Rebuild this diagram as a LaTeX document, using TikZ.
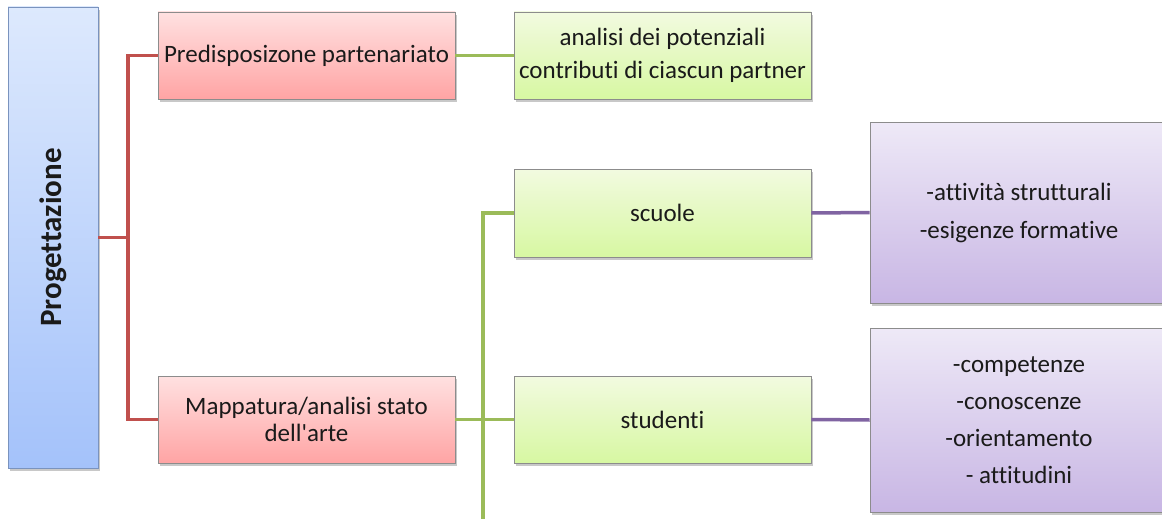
\documentclass[tikz,border=0pt]{standalone}
\usepackage{fontspec}
\setmainfont{Carlito}[Ligatures={TeXOff,NoCommon}]
\usetikzlibrary{shadows}
\definecolor{redline}{HTML}{C0504D}
\definecolor{greenline}{HTML}{9BBB59}
\definecolor{purpleline}{HTML}{8064A2}
\definecolor{boxborder}{HTML}{8C8C8C}
\definecolor{blueborder}{HTML}{7A93BE}
\definecolor{txt}{HTML}{1A1A1A}
\tikzset{
  basebox/.style={rectangle, draw=boxborder, line width=0.9pt, inner sep=0pt, align=center,
    text=txt, font=\fontsize{25}{27}\selectfont,
    drop shadow={shadow xshift=1.5pt, shadow yshift=-3pt, opacity=0.3, fill=black!70}},
  bluebox/.style={basebox, draw=blueborder,
    top color={rgb,255:red,221;green,233;blue,253}, bottom color={rgb,255:red,164;green,194;blue,250}},
  redbox/.style={basebox, top color={rgb,255:red,255;green,225;blue,225}, bottom color={rgb,255:red,255;green,164;blue,164}},
  greenbox/.style={basebox, top color={rgb,255:red,242;green,250;blue,224}, bottom color={rgb,255:red,215;green,248;blue,162}},
  purplebox/.style={basebox, top color={rgb,255:red,238;green,233;blue,247}, bottom color={rgb,255:red,200;green,182;blue,228}},
  redc/.style={draw=redline, line width=3.5pt},
  greenc/.style={draw=greenline, line width=3.5pt},
  purplec/.style={draw=purpleline, line width=3.5pt}
}
\begin{document}
\begin{tikzpicture}[x=1pt, y=-1pt]
\useasboundingbox (0,0) rectangle (1162,519);
\clip (0,0) rectangle (1162,519);
\fill[white] (0,0) rectangle (1162,519);

\coordinate (rtrunk) at (128,0);
\coordinate (gtrunk) at (483,0);
\coordinate (gend) at (483,530);

\node[bluebox, minimum width=90pt, minimum height=461pt] (prog) at (53,237.5) {};
\node[rotate=90, font=\fontsize{31}{33}\selectfont\bfseries, text=txt] (progtext) at (prog.center) {Progettazione};

\node[redbox, minimum width=297pt, minimum height=87pt] (pred) at (306.5,55.5) {Predisposizone partenariato};
\node[redbox, minimum width=297pt, minimum height=87pt] (mapp) at (306.5,419.5) {Mappatura/analisi stato\\dell'arte};

\node[greenbox, minimum width=297pt, minimum height=87pt, font=\fontsize{25}{33}\selectfont] (anal) at (662.5,55.5) {analisi dei potenziali\\contributi di ciascun partner};
\node[greenbox, minimum width=297pt, minimum height=88pt] (scuo) at (662.5,213) {scuole};
\node[greenbox, minimum width=297pt, minimum height=87pt] (stud) at (662.5,419.5) {studenti};

\node[purplebox, minimum width=298pt, minimum height=181pt, font=\fontsize{25}{38}\selectfont] (p1) at (1019,212.5) {-attività strutturali\\-esigenze formative};
\node[purplebox, minimum width=298pt, minimum height=184pt, font=\fontsize{25}{37}\selectfont] (p2) at (1019,420) {-competenze\\-conoscenze\\-orientamento\\- attitudini};

% red connectors
\draw[redc] (prog.east) -- (prog.east -| rtrunk);
\draw[redc] (pred.west) -- (pred.west -| rtrunk) -- (mapp.west -| rtrunk) -- (mapp.west);

% green connectors
\draw[greenc] (pred.east) -- (anal.west);
\draw[greenc] (mapp.east) -- (stud.west);
\draw[greenc] (scuo.west) -- (scuo.west -| gtrunk) -- (gend);

% purple connectors
\draw[purplec] (scuo.east) -- (p1.west);
\draw[purplec] (stud.east) -- (p2.west);
\end{tikzpicture}
\end{document}
